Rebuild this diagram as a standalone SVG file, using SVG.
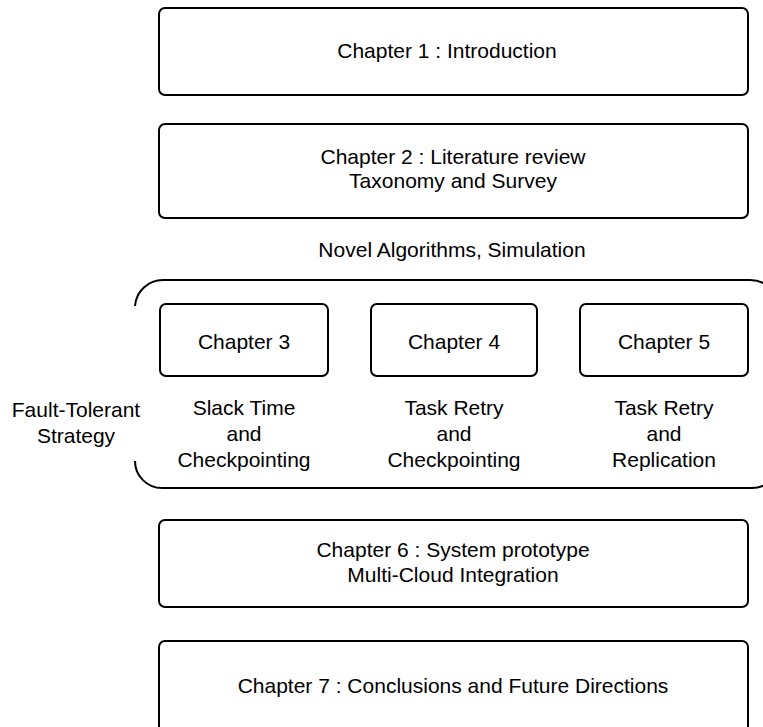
<svg xmlns="http://www.w3.org/2000/svg" width="763" height="727" viewBox="0 0 763 727">
  <style>
    .box { fill: #ffffff; stroke: #000000; stroke-width: 2; }
    .edge { fill: none; stroke: #000000; stroke-width: 2; }
    text { font-family: "Liberation Sans", Arial, sans-serif; font-size: 21px; fill: #000000; text-anchor: middle; }
  </style>
  <rect width="763" height="727" fill="#ffffff"/>

  <!-- Bracket grouping chapters 3 to 5 -->
  <g id="connectors">
    <path class="edge" d="M135,306 A28,28 0 0 1 163,280 H750 A30,30 0 0 1 780,310"/>
    <path class="edge" d="M780,460 A28,28 0 0 1 752,488 H162 A27,27 0 0 1 135,461"/>
  </g>

  <g id="chapter1">
    <rect class="box" x="159" y="8" width="589" height="87" rx="6"/>
    <text x="447" y="58">Chapter 1 : Introduction</text>
  </g>

  <g id="chapter2">
    <rect class="box" x="159" y="124" width="589" height="94" rx="6"/>
    <text x="453" y="164">Chapter 2 : Literature review</text>
    <text x="453" y="188">Taxonomy and Survey</text>
  </g>

  <g id="label-novel">
    <text x="452" y="257">Novel Algorithms, Simulation</text>
  </g>

  <g id="label-strategy">
    <text x="76" y="417">Fault-Tolerant</text>
    <text x="76" y="443">Strategy</text>
  </g>

  <g id="chapter3">
    <rect class="box" x="160" y="304" width="168" height="72" rx="6"/>
    <text x="244" y="349">Chapter 3</text>
    <text x="244" y="415">Slack Time</text>
    <text x="244" y="441">and</text>
    <text x="244" y="467">Checkpointing</text>
  </g>

  <g id="chapter4">
    <rect class="box" x="371" y="304" width="166" height="72" rx="6"/>
    <text x="454" y="349">Chapter 4</text>
    <text x="454" y="415">Task Retry</text>
    <text x="454" y="441">and</text>
    <text x="454" y="467">Checkpointing</text>
  </g>

  <g id="chapter5">
    <rect class="box" x="580" y="304" width="168" height="72" rx="6"/>
    <text x="664" y="349">Chapter 5</text>
    <text x="664" y="415">Task Retry</text>
    <text x="664" y="441">and</text>
    <text x="664" y="467">Replication</text>
  </g>

  <g id="chapter6">
    <rect class="box" x="159" y="520" width="589" height="87" rx="6"/>
    <text x="453" y="557">Chapter 6 : System prototype</text>
    <text x="453" y="582">Multi-Cloud Integration</text>
  </g>

  <g id="chapter7">
    <rect class="box" x="159" y="641" width="589" height="96" rx="6"/>
    <text x="453" y="693">Chapter 7 : Conclusions and Future Directions</text>
  </g>
</svg>
